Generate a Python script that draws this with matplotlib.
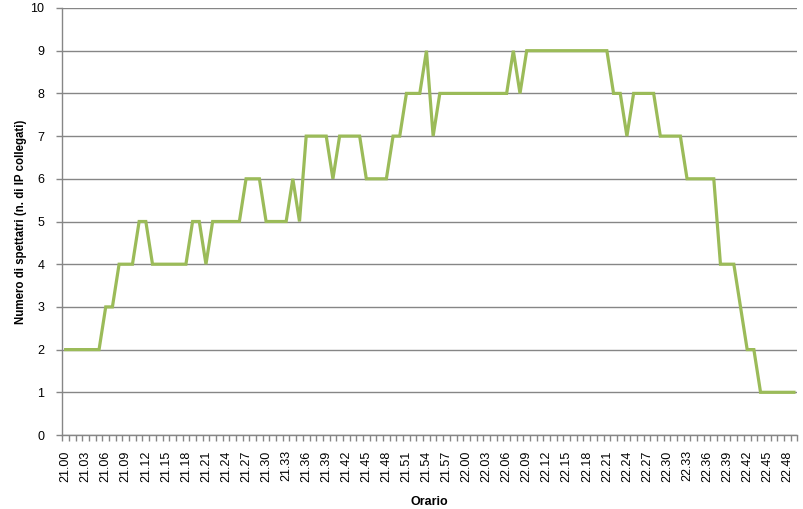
import numpy as np
import matplotlib
matplotlib.use('Agg')
import matplotlib.pyplot as plt

# minutes from 21.00 to 22.49
minutes = [f'{21 + m // 60}.{m % 60:02d}' for m in range(110)]

spettatori = [2, 2, 2, 2, 2, 2, 3, 3, 4, 4,
              4, 5, 5, 4, 4, 4, 4, 4, 4, 5,
              5, 4, 5, 5, 5, 5, 5, 6, 6, 6,
              5, 5, 5, 5, 6, 5, 7, 7, 7, 7,
              6, 7, 7, 7, 7, 6, 6, 6, 6, 7,
              7, 8, 8, 8, 9, 7, 8, 8, 8, 8,
              8, 8, 8, 8, 8, 8, 8, 9, 8, 9,
              9, 9, 9, 9, 9, 9, 9, 9, 9, 9,
              9, 9, 8, 8, 7, 8, 8, 8, 8, 7,
              7, 7, 7, 6, 6, 6, 6, 6, 4, 4,
              4, 3, 2, 2, 1, 1, 1, 1, 1, 1]

grey = '#868686'
plt.rcParams['font.family'] = ['Liberation Sans', 'DejaVu Sans']

fig = plt.figure(figsize=(8.04, 5.09), dpi=100)
ax = fig.add_axes([62.3 / 804, (509 - 435) / 509, 735 / 804, 427 / 509])

x = np.arange(len(minutes))
ax.plot(x, spettatori, color='#9BBB59', linewidth=2.3, solid_joinstyle='miter')

ax.set_xlim(-0.5, len(minutes) - 0.5)
ax.set_ylim(0, 10)
ax.set_yticks(range(0, 11))
ax.grid(axis='y', color=grey, linewidth=1.0)
ax.set_axisbelow(True)

ax.set_xticks(x[::3])
ax.set_xticklabels(minutes[::3], rotation=90, fontsize=9)
ax.set_xticks(np.arange(-0.5, len(minutes), 1), minor=True)
ax.tick_params(axis='x', which='major', length=0, pad=11)
ax.tick_params(axis='x', which='minor', length=4, color=grey, width=1)
ax.tick_params(axis='y', length=4, color=grey, width=1, labelsize=9, pad=9)

for s in ['top', 'right']:
    ax.spines[s].set_visible(False)
for s in ['left', 'bottom']:
    ax.spines[s].set_color(grey)
    ax.spines[s].set_linewidth(1.0)

ax.set_xlabel('Orario', fontsize=9, fontweight='bold', labelpad=10)
fig.text(21 / 804, 1 - 222 / 509, 'Numero di spettatri (n. di IP collegati)',
         rotation=90, fontsize=8.3, fontweight='bold', ha='center', va='center')

fig.savefig('out.png', dpi=100)
